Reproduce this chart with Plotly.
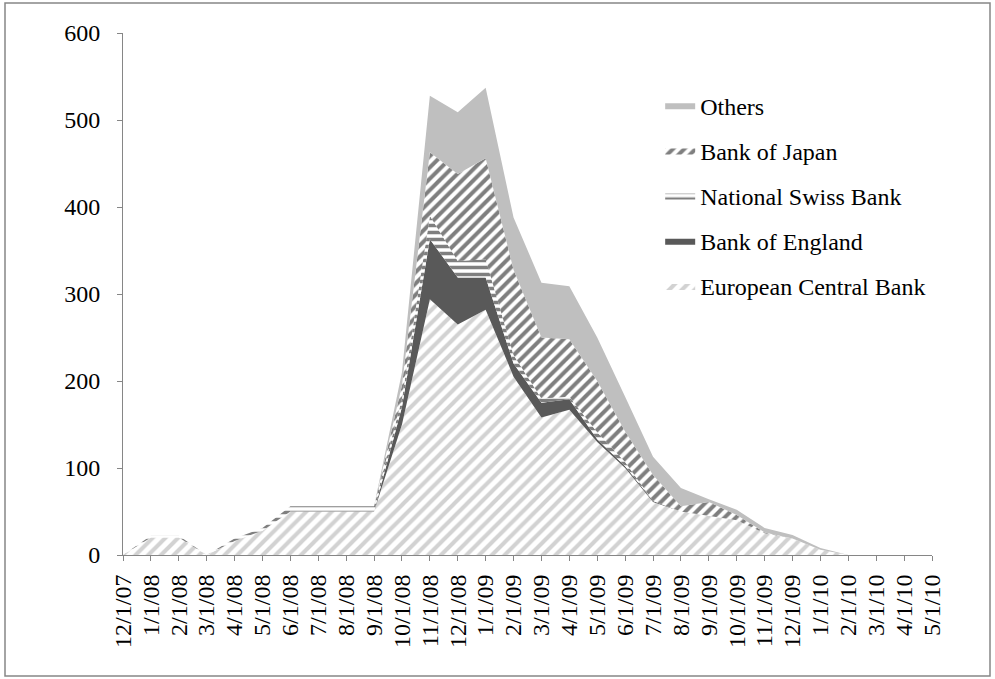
import plotly.graph_objects as go

# Monthly dates on the category axis
dates = ["12/1/07", "1/1/08", "2/1/08", "3/1/08", "4/1/08", "5/1/08", "6/1/08",
         "7/1/08", "8/1/08", "9/1/08", "10/1/08", "11/1/08", "12/1/08", "1/1/09",
         "2/1/09", "3/1/09", "4/1/09", "5/1/09", "6/1/09", "7/1/09", "8/1/09",
         "9/1/09", "10/1/09", "11/1/09", "12/1/09", "1/1/10", "2/1/10", "3/1/10",
         "4/1/10", "5/1/10"]

# Swap line amounts per central bank (stacked, bottom to top)
ecb = [0, 20, 20, 0, 16, 28, 50, 50, 50, 50, 150, 294, 265, 282, 205, 158, 167,
       130, 100, 61, 50, 45, 40, 25, 19, 6, 0, 0, 0, 0]
england = [0, 0, 0, 0, 0, 0, 0, 0, 0, 0, 20, 69, 54, 37, 15, 17, 12,
           3, 2, 1, 0, 0, 0, 0, 0, 0, 0, 0, 0, 0]
swiss = [0, 2, 2, 0, 3, 3, 6, 6, 6, 6, 10, 27, 19, 21, 10, 5, 3,
         8, 5, 0, 0, 0, 0, 0, 0, 0, 0, 0, 0, 0]
japan = [0, 0, 0, 0, 0, 0, 0, 0, 0, 0, 15, 73, 100, 116, 98, 70, 66,
         59, 35, 30, 6, 16, 6, 1, 0, 0, 0, 0, 0, 0]
others = [0, 0, 0, 0, 0, 0, 0, 0, 0, 0, 15, 65, 71, 81, 60, 63, 61,
          50, 40, 21, 21, 3, 6, 5, 4, 2, 0, 0, 0, 0]

y_ticks = [0, 100, 200, 300, 400, 500, 600]

FONT = "Liberation Serif"
AXIS_GREY = "#868686"

xs = list(range(len(dates)))

series = [
    ("European Central Bank", ecb,
     dict(fillcolor="white", fillpattern=dict(shape="/", fgcolor="#a6a6a6", bgcolor="white",
                                               size=9, solidity=0.45))),
    ("Bank of England", england, dict(fillcolor="#595959")),
    ("National Swiss Bank", swiss,
     dict(fillcolor="white", fillpattern=dict(shape="-", fgcolor="black", bgcolor="white",
                                               size=7, solidity=0.5))),
    ("Bank of Japan", japan,
     dict(fillcolor="white", fillpattern=dict(shape="/", fgcolor="black", bgcolor="white",
                                               size=8, solidity=0.5))),
    ("Others", others, dict(fillcolor="#bfbfbf")),
]

fig = go.Figure()
for i, (name, vals, style) in enumerate(series):
    # legend lists the top layer first
    fig.add_trace(go.Scatter(
        x=xs, y=vals, name=name, mode="lines", stackgroup="one",
        line=dict(width=0), legendgroup=name, legendrank=len(series) - i,
        hoverinfo="skip", **style))

fig.update_layout(
    width=995, height=679,
    margin=dict(l=123, r=63, t=33, b=124),
    paper_bgcolor="white", plot_bgcolor="white",
    font=dict(family=FONT, size=24, color="black"),
    showlegend=True,
    legend=dict(traceorder="grouped", x=0.664, y=0.904, xanchor="left", yanchor="top",
                bgcolor="rgba(0,0,0,0)", font=dict(family=FONT, size=24),
                tracegroupgap=11, itemwidth=30),
    xaxis=dict(range=[0, len(dates) - 1], tickmode="array", tickvals=xs, ticktext=dates,
               tickangle=-90, showgrid=False, zeroline=False, showline=True,
               linecolor=AXIS_GREY, linewidth=1, ticks="outside", ticklen=5,
               tickcolor=AXIS_GREY, tickfont=dict(family=FONT, size=24),
               ticklabelstandoff=4),
    yaxis=dict(range=[0, 600], tickmode="array", tickvals=y_ticks, showgrid=False,
               zeroline=False, showline=True, linecolor=AXIS_GREY, linewidth=1,
               ticks="outside", ticklen=5, tickcolor=AXIS_GREY,
               tickfont=dict(family=FONT, size=24), ticklabelstandoff=12),
)

# Outer frame around the whole chart
fig.add_shape(type="rect", xref="paper", yref="paper",
              x0=(5 - 123) / 809, x1=(990 - 123) / 809,
              y0=(555 - 676) / 522, y1=(555 - 3) / 522,
              line=dict(color=AXIS_GREY, width=1.5), fillcolor="rgba(0,0,0,0)", layer="below")

fig.write_html("out.html")
